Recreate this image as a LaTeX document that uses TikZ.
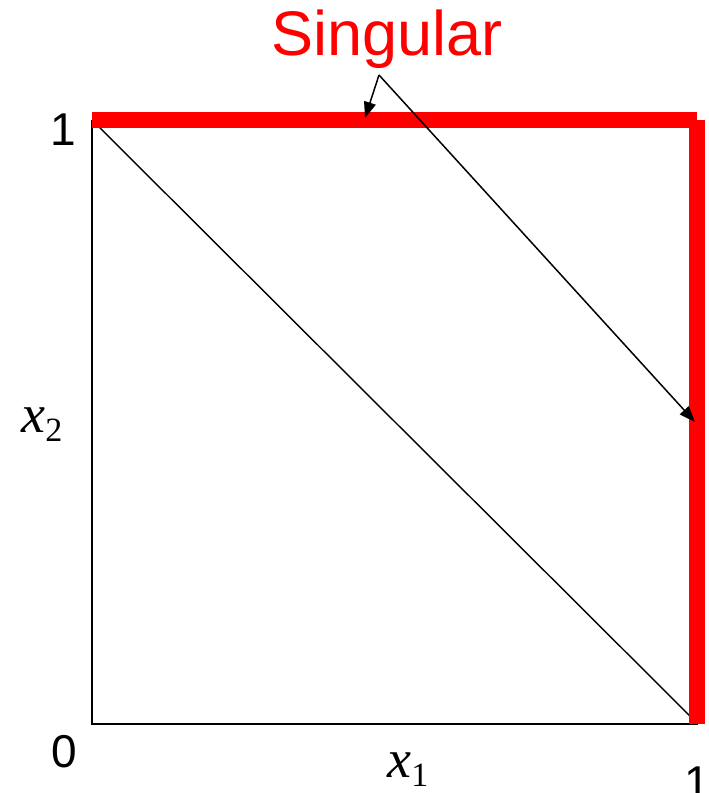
\documentclass[tikz,border=0pt]{standalone}
\usepackage{fontspec}
\setmainfont{Liberation Sans}
\newfontfamily\tmsfont{Liberation Serif}
\usetikzlibrary{arrows.meta}
\definecolor{sred}{RGB}{255,0,0}
\begin{document}
\begin{tikzpicture}[x=1pt,y=-1pt,
  edge/.style={draw=black,line width=1.6pt},
  redbar/.style={draw=sred,line width=15.5pt,line cap=butt},
  pointer/.style={draw=black,line width=1.5pt,-{Triangle[length=16pt,width=12pt]}},
  numlab/.style={font=\fontsize{46}{46}\selectfont,inner sep=0pt,anchor=base},
  varlab/.style={font=\fontsize{54}{54}\selectfont\tmsfont,inner sep=0pt,anchor=base}]
\useasboundingbox (0,0) rectangle (709,793);
\coordinate (O) at (92,724);
\coordinate (A) at (698,724);
\coordinate (B) at (92,120);
\coordinate (TR) at (697,120);
\coordinate (BR) at (697,724);
\draw[edge] (B) -- (O) -- (A);
\draw[draw=black,line width=1.4pt] (B) -- (A);
\draw[redbar] (B) -- (TR);
\draw[redbar] (TR) -- (BR);
\node[font=\fontsize{63}{63}\selectfont,text=sred,inner sep=0pt,anchor=base] (sing) at (387,55) {Singular};
\coordinate (src) at (379,75);
\coordinate (t1) at (365,118);
\coordinate (t2) at (695,422);
\draw[pointer] (src) -- (t1);
\draw[pointer] (src) -- (t2);
\node[numlab] (one) at (63,145) {1};
\node[numlab] (zero) at (64,767) {0};
\node[numlab] (oneb) at (697,798) {1};
\node[varlab] (x1) at (408,777) {\itshape x\raisebox{-9pt}{\upshape\fontsize{34}{34}\selectfont 1}};
\node[varlab] (x2) at (42,432) {\itshape x\raisebox{-9pt}{\upshape\fontsize{34}{34}\selectfont 2}};
\end{tikzpicture}
\end{document}
